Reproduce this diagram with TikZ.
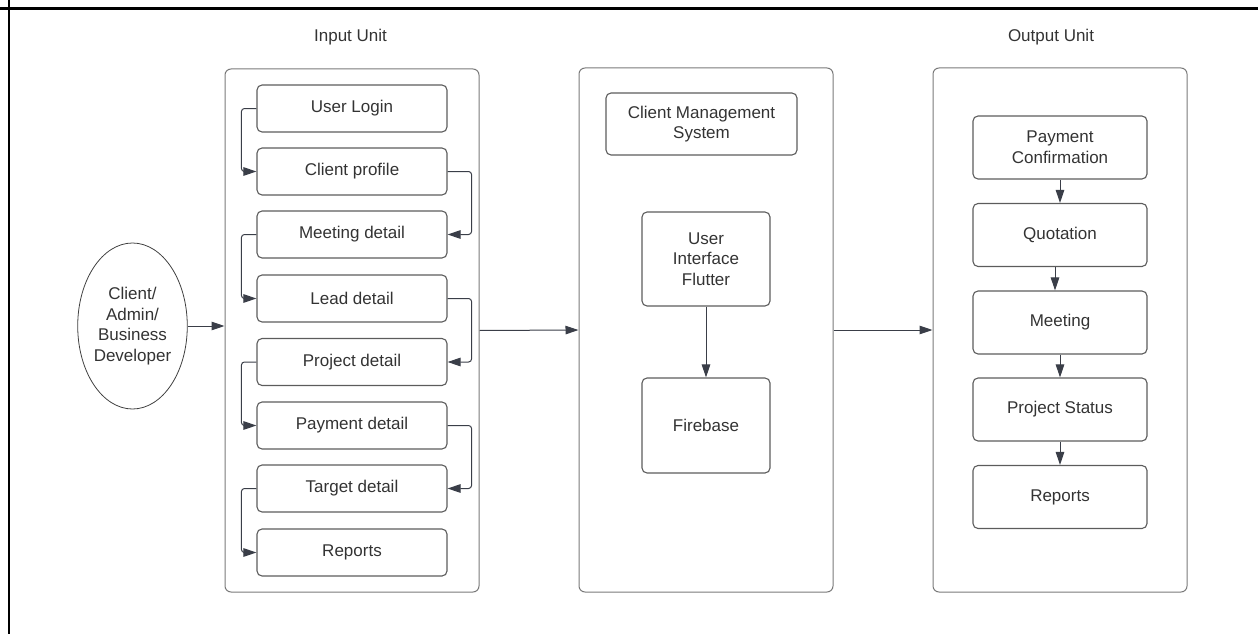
\documentclass[tikz,border=0pt]{standalone}
\usepackage{fontspec}
\setmainfont{Liberation Sans}
\usetikzlibrary{arrows.meta,shapes.geometric,calc}

\definecolor{txt}{HTML}{333333}
\definecolor{boxline}{HTML}{5C5C5C}
\definecolor{unitline}{HTML}{7A7A7A}
\definecolor{flow}{HTML}{3A3E48}

\tikzset{
  unitbox/.style={draw=unitline, line width=1pt, rounded corners=6pt,
    minimum width=254pt, inner sep=0pt},
  itembox/.style={draw=boxline, line width=1.1pt, rounded corners=5pt,
    inner sep=0pt, text=txt, align=center,
    font=\fontsize{17}{20.7}\selectfont},
  heading/.style={text=txt, font=\fontsize{17}{20}\selectfont, inner sep=0pt},
  flowarrow/.style={draw=flow, line width=1pt,
    -{Triangle[length=13pt,width=8.5pt]}},
  looparrow/.style={flowarrow, rounded corners=3pt},
}

\begin{document}
\begin{tikzpicture}[x=1pt,y=-1pt]
\useasboundingbox (0,0) rectangle (1258,634);

% frame edges
\draw[line width=3pt, black] (0,8.5) -- (1258,8.5);
\draw[line width=2.6pt, black] (9,0) -- (9,634);

% unit headings
\node[heading] (hin)  at (350.5,37) {Input Unit};
\node[heading] (hout) at (1051,37) {Output Unit};

% unit containers
\node[unitbox, minimum height=523pt] (inp) at (352,330.5) {};
\node[unitbox, minimum height=524pt] (mid) at (706,330) {};
\node[unitbox, minimum height=524pt] (out) at (1060,330) {};

% actor
\node[draw=black!75, line width=0.8pt, ellipse, minimum width=101pt,
  minimum height=166pt, inner sep=0pt, text=txt, align=center,
  font=\fontsize{17}{20.7}\selectfont] (actor) at (132.5,326)
  {Client/\\Admin/\\Business\\Developer};

% input items
\tikzset{initem/.style={itembox, minimum width=190pt, minimum height=47pt}}
\node[initem] (ul)  at (352,108.5) {User Login};
\node[initem] (cp)  at (352,171.5) {Client profile};
\node[initem] (md)  at (352,234.5) {Meeting detail};
\node[initem] (ld)  at (352,298.5) {Lead detail};
\node[initem] (pd)  at (352,362)   {Project detail};
\node[initem] (pyd) at (352,425.5) {Payment detail};
\node[initem] (td)  at (352,488.5) {Target detail};
\node[initem] (rp)  at (352,552.5) {Reports};

% input chain, alternating sides
\draw[looparrow] (ul.west)  -- ++(-15,0) |- (cp.west);
\draw[looparrow] (cp.east)  -- ++(24,0)  |- (md.east);
\draw[looparrow] (md.west)  -- ++(-15,0) |- (ld.west);
\draw[looparrow] (ld.east)  -- ++(24,0)  |- (pd.east);
\draw[looparrow] (pd.west)  -- ++(-15,0) |- (pyd.west);
\draw[looparrow] (pyd.east) -- ++(24,0)  |- (td.east);
\draw[looparrow] (td.west)  -- ++(-15,0) |- (rp.west);

% system column
\node[itembox, minimum width=191pt, minimum height=62pt] (cms) at (701.5,124)
  {Client Management\\System};
\node[itembox, minimum width=128pt, minimum height=94pt] (ui) at (706,259)
  {User\\Interface\\Flutter};
\node[itembox, minimum width=128pt, minimum height=95pt] (fb) at (706,425.5)
  {Firebase};
\draw[flowarrow] (ui) -- (fb);

% output items
\tikzset{outitem/.style={itembox, minimum width=174pt, minimum height=63pt}}
\node[outitem] (pc)  at (1060,147.5) {Payment\\Confirmation};
\node[outitem] (qt)  at (1060,235)   {Quotation};
\node[outitem] (mt)  at (1060,322.5) {Meeting};
\node[outitem] (ps)  at (1060,409.5) {Project Status};
\node[outitem] (orp) at (1060,497)   {Reports};

\draw[flowarrow] (pc) -- (qt);
\draw[flowarrow] ($(qt.south)+(-5,0)$) -- ($(mt.north)+(-5,0)$);
\draw[flowarrow] (mt) -- (ps);
\draw[flowarrow] (ps) -- (orp);

% flow between units
\draw[flowarrow] (actor.east) -- (actor.east -| inp.west);
\draw[flowarrow] (inp.east) -- (mid.west);
\draw[flowarrow] (mid.east) -- (out.west);
\end{tikzpicture}
\end{document}
